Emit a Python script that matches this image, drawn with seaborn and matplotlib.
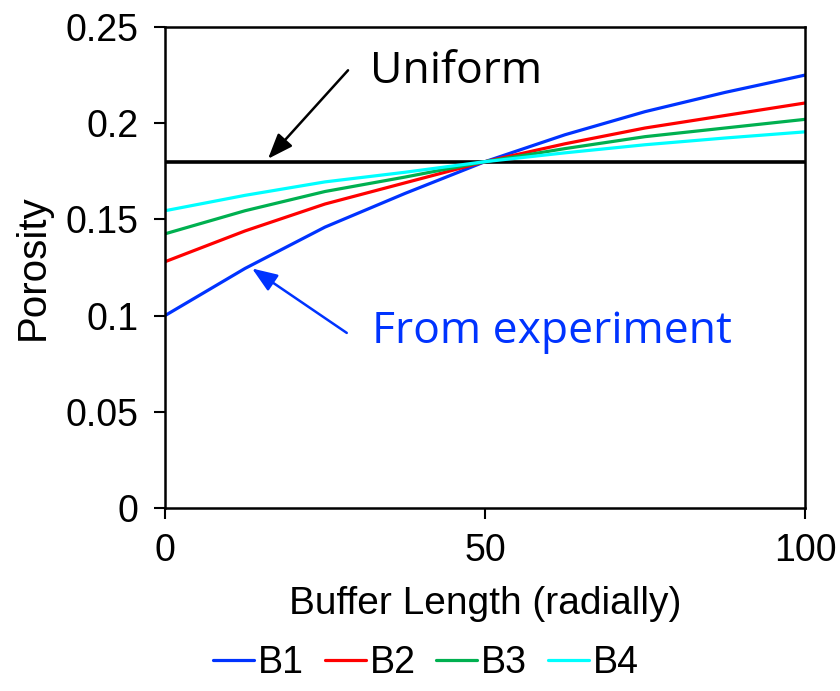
import numpy as np
import pandas as pd
import matplotlib
matplotlib.use("Agg")
import matplotlib.pyplot as plt
import seaborn as sns

# Data
buffer_length = [0, 12.5, 25, 37.5, 50, 62.5, 75, 87.5, 100]
b1 = [0.100, 0.1245, 0.146, 0.1635, 0.180, 0.1940, 0.2060, 0.2160, 0.2250]
b2 = [0.128, 0.144, 0.158, 0.169, 0.180, 0.1893, 0.1975, 0.204, 0.2105]
b3 = [0.1425, 0.1545, 0.1645, 0.172, 0.180, 0.1868, 0.193, 0.1975, 0.202]
b4 = [0.1545, 0.1625, 0.1695, 0.1745, 0.180, 0.1846, 0.1888, 0.1923, 0.1955]
series_names = ["B1", "B2", "B3", "B4"]
uniform_x = [0, 100]
uniform_y = [0.18, 0.18]
x_ticks = [0, 50, 100]
y_ticks = [0, 0.05, 0.1, 0.15, 0.2, 0.25]
y_tick_labels = ["0", "0.05", "0.1", "0.15", "0.2", "0.25"]

colors = {"B1": "#0033FF", "B2": "#FF0000", "B3": "#00B050", "B4": "#00FFFF"}

df = pd.DataFrame({
    "Buffer Length (radially)": buffer_length * 4,
    "Porosity": b1 + b2 + b3 + b4,
    "Series": [s for s in series_names for _ in buffer_length],
})

sns.set_theme(style="white")
plt.rcParams["font.family"] = ["Liberation Sans", "DejaVu Sans"]
plt.rcParams["text.color"] = "black"
plt.rcParams["axes.labelcolor"] = "black"

fig = plt.figure(figsize=(8.4, 6.91), dpi=100)
ax = fig.add_axes([165 / 840, 1 - 508 / 691, 640 / 840, 481 / 691])

sns.lineplot(data=df, x="Buffer Length (radially)", y="Porosity", hue="Series",
             palette=colors, linewidth=2.3, ax=ax, legend=True)
ax.plot(uniform_x, uniform_y, color="black", linewidth=2.6, zorder=1)

ax.set_xlim(0, 100)
ax.set_ylim(0, 0.25)
ax.set_xticks(x_ticks)
ax.set_xticklabels([str(v) for v in x_ticks])
ax.set_yticks(y_ticks)
ax.set_yticklabels(y_tick_labels)

fs = 27
ax.tick_params(axis="both", labelsize=fs, direction="out", length=8, width=1.5,
               color="black", labelcolor="black", bottom=True, left=True)
ax.tick_params(axis="x", pad=10)
ax.tick_params(axis="y", pad=11)
ax.set_xlabel("Buffer Length (radially)", fontsize=28, color="black", labelpad=12)
ax.set_ylabel("Porosity", fontsize=29, color="black", labelpad=10)
for side in ["left", "bottom", "right", "top"]:
    ax.spines[side].set_visible(True)
    ax.spines[side].set_color("black")
    ax.spines[side].set_linewidth(1.8)

# Annotations
arrow_style = "-|>,head_length=1.1,head_width=0.42"
ax.annotate("", xy=(16.1, 0.1815), xytext=(28.6, 0.2275),
            arrowprops=dict(arrowstyle=arrow_style, mutation_scale=14,
                            color="black", lw=1.8, shrinkA=0, shrinkB=0))
ax.text(32.0, 0.2265, "Uniform", fontsize=32, family=["Open Sans", "DejaVu Sans"],
        color="black", va="center", ha="left")
ax.annotate("", xy=(13.6, 0.1245), xytext=(28.4, 0.0910),
            arrowprops=dict(arrowstyle=arrow_style, mutation_scale=14,
                            color="#0033FF", lw=1.8, shrinkA=0, shrinkB=0))
ax.text(32.3, 0.0915, "From experiment", fontsize=32,
        family=["Open Sans", "DejaVu Sans"], color="#0033FF", va="center", ha="left")

handles, labels = ax.get_legend_handles_labels()
ax.legend_.remove()
fig.legend(handles, labels, loc="center", bbox_to_anchor=(0.507, 1 - 663 / 691),
           ncol=4, frameon=False, fontsize=fs, handlelength=1.1,
           handletextpad=0.1, columnspacing=0.55, borderaxespad=0)

fig.savefig("out.png", dpi=100)
